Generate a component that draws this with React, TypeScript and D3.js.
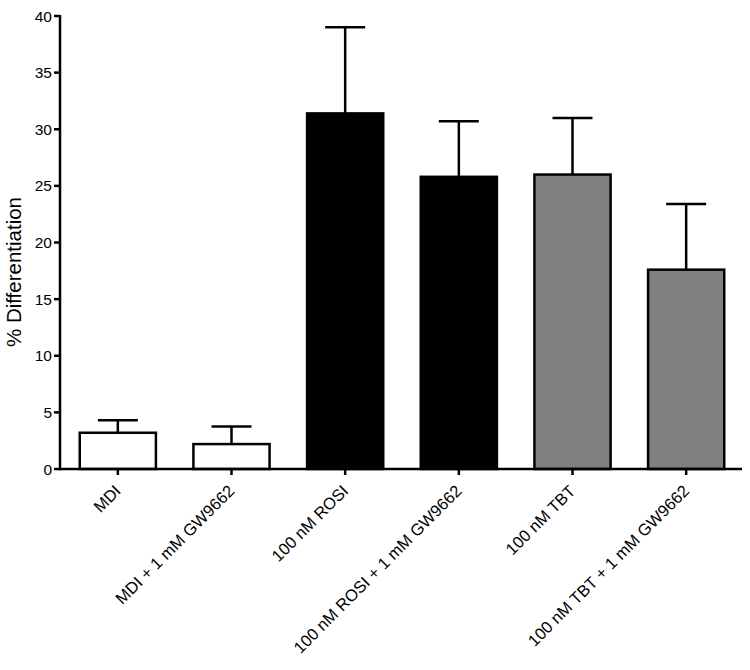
import React from "react";
import * as d3 from "d3";

const categories = [
  "MDI",
  "MDI + 1 mM GW9662",
  "100 nM ROSI",
  "100 nM ROSI + 1 mM GW9662",
  "100 nM TBT",
  "100 nM TBT + 1 mM GW9662",
];
const means = [3.2, 2.2, 31.4, 25.8, 26.0, 17.6];
const sems = [1.1, 1.55, 7.6, 4.9, 5.0, 5.8];
const fills = ["#ffffff", "#ffffff", "#000000", "#000000", "#808080", "#808080"];
const yTicks = [0, 5, 10, 15, 20, 25, 30, 35, 40];

const FONT = "'Liberation Sans', Arial, Helvetica, sans-serif";

export default function App() {
  const x0 = 60;
  const x1 = 742;
  const yBase = 469;
  const yTop = 16;
  const x = d3
    .scaleBand<string>()
    .domain(categories)
    .range([x0 + 1, x1 + 1])
    .paddingInner(0.33)
    .paddingOuter(0.165);
  const y = d3.scaleLinear().domain([0, 40]).range([yBase, yTop]);
  const bw = x.bandwidth();
  const capW = 40;

  return (
    <svg
      width={750}
      height={670}
      style={{ position: "absolute", left: 0, top: 0, background: "#fff" }}
    >
      {categories.map((c, i) => {
        const cx = (x(c) as number) + bw / 2;
        const top = y(means[i]);
        const errY = y(means[i] + sems[i]);
        return (
          <g key={c}>
            <line x1={cx} x2={cx} y1={top} y2={errY} stroke="#000" strokeWidth={2.5} />
            <line
              x1={cx - capW / 2}
              x2={cx + capW / 2}
              y1={errY}
              y2={errY}
              stroke="#000"
              strokeWidth={2.5}
            />
            <rect
              x={x(c) as number}
              y={top}
              width={bw}
              height={yBase - top}
              fill={fills[i]}
              stroke="#000"
              strokeWidth={2.5}
            />
          </g>
        );
      })}
      {/* axes */}
      <line x1={x0} x2={x0} y1={yTop - 1} y2={yBase + 1.25} stroke="#000" strokeWidth={2.5} />
      <line x1={x0 - 1.25} x2={x1} y1={yBase} y2={yBase} stroke="#000" strokeWidth={2.5} />
      {yTicks.map((t) => (
        <g key={t}>
          <line x1={x0 - 6} x2={x0} y1={y(t)} y2={y(t)} stroke="#000" strokeWidth={2.5} />
          <text
            x={x0 - 8}
            y={y(t)}
            dy="0.36em"
            textAnchor="end"
            fontFamily={FONT}
            fontSize={15.5}
            fill="#000"
          >
            {t}
          </text>
        </g>
      ))}
      {categories.map((c) => {
        const cx = (x(c) as number) + bw / 2;
        return (
          <g key={"t" + c}>
            <line x1={cx} x2={cx} y1={yBase} y2={yBase + 6} stroke="#000" strokeWidth={2.5} />
            <text
              transform={`translate(${cx + 4},${yBase + 23}) rotate(-45)`}
              textAnchor="end"
              fontFamily={FONT}
              fontSize={16.5}
              fill="#000"
            >
              {c}
            </text>
          </g>
        );
      })}
      <text
        transform={`translate(21,272) rotate(-90)`}
        textAnchor="middle"
        fontFamily={FONT}
        fontSize={20.5}
        fill="#000"
      >
        % Differentiation
      </text>
    </svg>
  );
}
